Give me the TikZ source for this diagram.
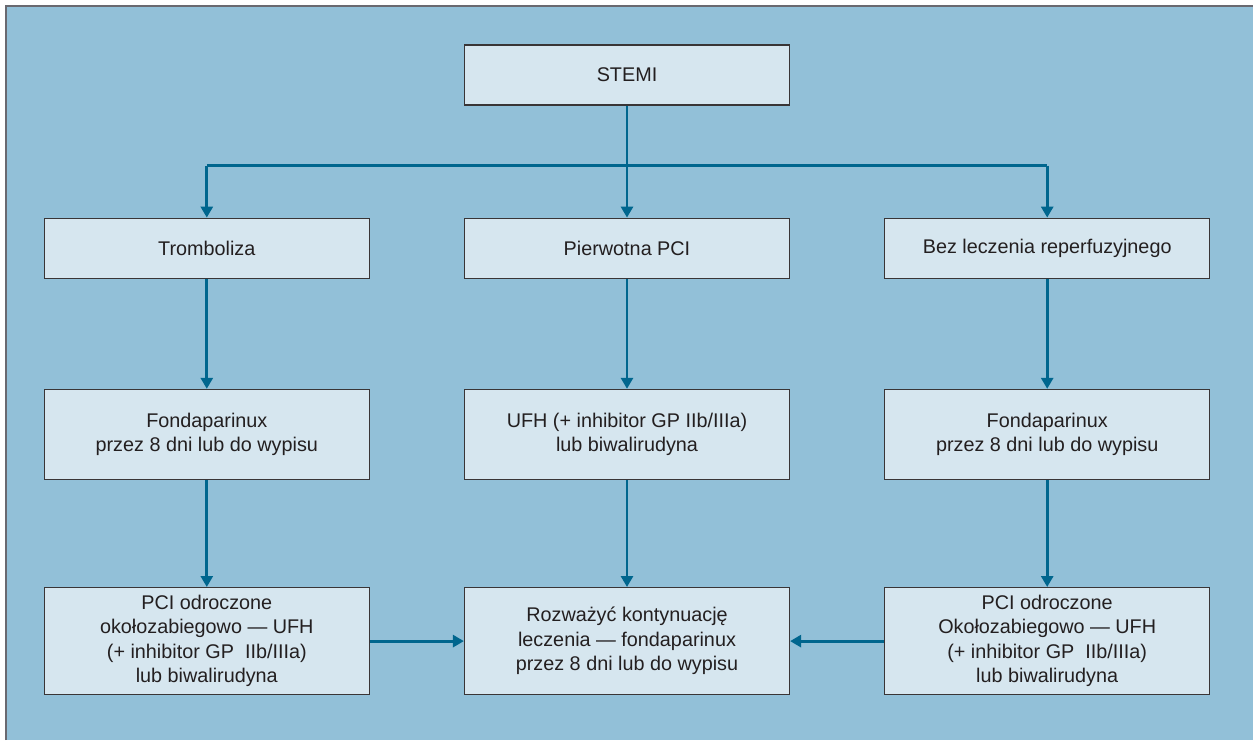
\documentclass[tikz,border=0pt]{standalone}
\usepackage{fontspec}
\setmainfont{Liberation Sans}
\definecolor{panel}{RGB}{146,192,216}
\definecolor{boxfill}{RGB}{214,230,239}
\definecolor{flow}{RGB}{0,102,142}
\definecolor{ink}{RGB}{35,31,32}
\definecolor{frame}{RGB}{105,105,112}
\usetikzlibrary{arrows.meta,positioning}
\tikzset{
  box/.style={draw=ink!90,line width=1.2pt,fill=boxfill,align=center,text=ink,
              minimum width=325pt,inner sep=4pt,font=\fontsize{19.8}{24.5}\selectfont},
  head/.style={box,minimum height=60pt},
  dose/.style={box,minimum height=90pt},
  next/.style={box,minimum height=107pt},
  link/.style={draw=flow,line width=2.8pt},
  arr/.style={link,-{Triangle[length=11pt,width=12pt]}},
}

\begin{document}
\begin{tikzpicture}[x=1pt,y=1pt,node distance=110pt and 94pt]
    \useasboundingbox (0,0) rectangle (1253,-740);
    \fill[panel] (7,-7) rectangle (1253,-740);
    \draw[frame,line width=2pt] (6,-740) -- (6,-6) -- (1253,-6);
    \node[head] (stemi) at (627,-75) {STEMI};
    \node[head,below=112pt of stemi] (pci) {Pierwotna PCI};
    \node[head,left=of pci] (lysis) {Tromboliza};
    \node[head,right=of pci] (none) {Bez leczenia reperfuzyjnego};
    \node[dose,below=of lysis] (fondaL) {Fondaparinux\\przez 8 dni lub do wypisu};
    \node[dose,below=of pci] (ufh) {UFH (+ inhibitor GP IIb/IIIa)\\lub biwalirudyna};
    \node[dose,below=of none] (fondaR) {Fondaparinux\\przez 8 dni lub do wypisu};
    \node[next,below=107pt of fondaL] (lateL) {PCI odroczone\\okołozabiegowo — UFH\\(+ inhibitor GP~ IIb/IIIa)\\lub biwalirudyna};
    \node[next,below=107pt of ufh] (cont) {Rozważyć kontynuację\\leczenia — fondaparinux\\przez 8 dni lub do wypisu};
    \node[next,below=107pt of fondaR] (lateR) {PCI odroczone\\Okołozabiegowo — UFH\\(+ inhibitor GP~ IIb/IIIa)\\lub biwalirudyna};
    \coordinate (bus) at (0,-165.5);
    \draw[link] (bus -| lysis.north) -- (bus -| none.north);
    \draw[arr] (stemi) -- (pci);
    \draw[arr] (bus -| lysis.north) -- (lysis);
    \draw[arr] (bus -| none.north) -- (none);
    \draw[arr] (lysis) -- (fondaL);
    \draw[arr] (pci) -- (ufh);
    \draw[arr] (none) -- (fondaR);
    \draw[arr] (fondaL) -- (lateL);
    \draw[arr] (ufh) -- (cont);
    \draw[arr] (fondaR) -- (lateR);
    \draw[arr] (lateL) -- (cont);
    \draw[arr] (lateR) -- (cont);
  \end{tikzpicture}
\end{document}
